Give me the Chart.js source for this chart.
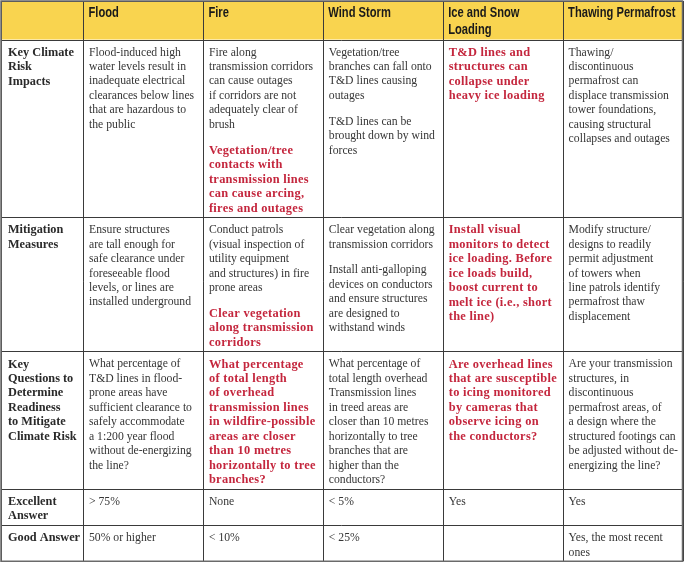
<!DOCTYPE html>
<html lang="en">
<head>
<meta charset="UTF-8">
<title>Climate risk readiness</title>
<style>
  body { margin: 0; background: #fff; }
</style>
</head>
<body>
<canvas id="table-chart" width="685" height="564"></canvas>
<script src="https://cdn.jsdelivr.net/npm/chart.js@4.4.1/dist/chart.umd.min.js"></script>
<script>
var hazards = ['Flood', 'Fire', 'Wind Storm', 'Ice and Snow\nLoading', 'Thawing Permafrost'];
var criteria = ['Key Climate\nRisk\nImpacts', 'Mitigation\nMeasures',
  'Key\nQuestions to\nDetermine\nReadiness\nto Mitigate\nClimate Risk', 'Excellent\nAnswer', 'Good Answer'];

// one string per hazard; "\n\n" starts a new paragraph
var impacts = [
  'Flood-induced high\nwater levels result in\ninadequate electrical\nclearances below lines\nthat are hazardous to\nthe public',
  'Fire along\ntransmission corridors\ncan cause outages\nif corridors are not\nadequately clear of\nbrush\n\nVegetation/tree\ncontacts with\ntransmission lines\ncan cause arcing,\nfires and outages',
  'Vegetation/tree\nbranches can fall onto\nT&D lines causing\noutages\n\nT&D lines can be\nbrought down by wind\nforces',
  'T&D lines and\nstructures can\ncollapse under\nheavy ice loading',
  'Thawing/\ndiscontinuous\npermafrost can\ndisplace transmission\ntower foundations,\ncausing structural\ncollapses and outages'
];
var mitigation = [
  'Ensure structures\nare tall enough for\nsafe clearance under\nforeseeable flood\nlevels, or lines are\ninstalled underground',
  'Conduct patrols\n(visual inspection of\nutility equipment\nand structures) in fire\nprone areas\n\nClear vegetation\nalong transmission\ncorridors',
  'Clear vegetation along\ntransmission corridors\n\nInstall anti-galloping\ndevices on conductors\nand ensure structures\nare designed to\nwithstand winds',
  'Install visual\nmonitors to detect\nice loading. Before\nice loads build,\nboost current to\nmelt ice (i.e., short\nthe line)',
  'Modify structure/\ndesigns to readily\npermit adjustment\nof towers when\nline patrols identify\npermafrost thaw\ndisplacement'
];
var questions = [
  'What percentage of\nT&D lines in flood-\nprone areas have\nsufficient clearance to\nsafely accommodate\na 1:200 year flood\nwithout de-energizing\nthe line?',
  'What percentage\nof total length\nof overhead\ntransmission lines\nin wildfire-possible\nareas are closer\nthan 10 metres\nhorizontally to tree\nbranches?',
  'What percentage of\ntotal length overhead\nTransmission lines\nin treed areas are\ncloser than 10 metres\nhorizontally to tree\nbranches that are\nhigher than the\nconductors?',
  'Are overhead lines\nthat are susceptible\nto icing monitored\nby cameras that\nobserve icing on\nthe conductors?',
  'Are your transmission\nstructures, in\ndiscontinuous\npermafrost areas, of\na design where the\nstructured footings can\nbe adjusted without de-\nenergizing the line?'
];
var excellent = ['> 75%', 'None', '< 5%', 'Yes', 'Yes'];
var good = ['50% or higher', '< 10%', '< 25%', '', 'Yes, the most recent\nones'];
var rows = [impacts, mitigation, questions, excellent, good];

// [row, hazard] cells whose last paragraph is the highlighted recommendation
var highlighted = [[0, 1], [0, 3], [1, 1], [1, 3], [2, 1], [2, 3]];

var serif = '"Liberation Serif", "Times New Roman", serif';
var headFont = 'bold 15.5px "Liberation Sans", Arial, sans-serif';
var labelWidth = 82, hazardWidth = 119.9, tableLeft = 1, tableTop = 1;
var lineH = 14.45, paraGap = 11.3, bottomPad = 8.8, headLineH = 16.6;

function isRed(r, c) {
    for (var i = 0; i < highlighted.length; i++) {
        if (highlighted[i][0] === r && highlighted[i][1] === c) return true;
    }
    return false;
}

function cellHeight(text) {
    var paras = text.split('\n\n');
    var n = 0;
    paras.forEach(function (p) { n += p.split('\n').length; });
    return 13 + (n - 1) * lineH + (paras.length - 1) * paraGap + bottomPad;
}

var tablePlugin = {
    id: 'cellTable',
    afterDraw: function (chart) {
        var ctx = chart.ctx;
        var sx = chart.scales.x, sy = chart.scales.y;
        var px = function (v) { return sx.getPixelForValue(v); };
        var py = function (v) { return sy.getPixelForValue(v); };

        var colEdges = [tableLeft, tableLeft + labelWidth];
        hazards.forEach(function () { colEdges.push(colEdges[colEdges.length - 1] + hazardWidth); });

        var headH = 11.7 + headLineH + 10.2;
        var rowEdges = [tableTop, tableTop + headH];
        rows.forEach(function (row, r) {
            var h = cellHeight(criteria[r]);
            row.forEach(function (t) { h = Math.max(h, cellHeight(t)); });
            rowEdges.push(rowEdges[rowEdges.length - 1] + h);
        });
        var right = colEdges[colEdges.length - 1];
        var bottom = rowEdges[rowEdges.length - 1];

        ctx.save();
        // header band
        ctx.fillStyle = '#f9d44f';
        ctx.fillRect(px(tableLeft), py(tableTop), px(right) - px(tableLeft), py(rowEdges[1]) - py(tableTop));

        ctx.textBaseline = 'middle';
        ctx.textAlign = 'left';

        // header texts, squeezed to look like a condensed face
        ctx.fillStyle = '#1a1a1a';
        ctx.font = headFont;
        hazards.forEach(function (h, c) {
            h.split('\n').forEach(function (line, i) {
                ctx.save();
                ctx.translate(px(colEdges[c + 1]) + 5.5, py(tableTop + 12.2 + i * headLineH));
                ctx.scale(0.72, 1);
                ctx.fillText(line, 0, 0);
                ctx.restore();
            });
        });

        // row labels
        ctx.fillStyle = '#2a2a2a';
        ctx.font = 'bold 12.3px ' + serif;
        criteria.forEach(function (lab, r) {
            lab.split('\n').forEach(function (line, i) {
                ctx.fillText(line, px(tableLeft) + 7, py(rowEdges[r + 1] + 13 + i * lineH), 74);
            });
        });

        // body cells
        rows.forEach(function (row, r) {
            row.forEach(function (text, c) {
                if (!text) return;
                var yv = rowEdges[r + 1] + 13;
                var paras = text.split('\n\n');
                paras.forEach(function (p, k) {
                    var red = isRed(r, c) && k === paras.length - 1;
                    ctx.fillStyle = red ? '#c4263d' : '#363636';
                    ctx.font = red ? 'bold 12.4px ' + serif : '11.7px ' + serif;
                    ctx.letterSpacing = red ? '0.3px' : '0px';
                    p.split('\n').forEach(function (line) {
                        ctx.fillText(line, px(colEdges[c + 1]) + 6, py(yv), hazardWidth - 7);
                        yv += lineH;
                    });
                    yv += paraGap;
                });
            });
        });
        ctx.letterSpacing = '0px';

        // grid
        ctx.strokeStyle = '#3a3a3a';
        ctx.lineWidth = 1;
        ctx.beginPath();
        colEdges.forEach(function (v) {
            var xx = Math.round(px(v)) + 0.5;
            ctx.moveTo(xx, py(tableTop));
            ctx.lineTo(xx, py(bottom));
        });
        rowEdges.forEach(function (v) {
            var yy = Math.round(py(v)) + 0.5;
            ctx.moveTo(px(tableLeft), yy);
            ctx.lineTo(px(right), yy);
        });
        ctx.stroke();
        ctx.strokeStyle = '#6a6a6a';
        ctx.lineWidth = 1.5;
        ctx.strokeRect(px(tableLeft), py(tableTop), px(right) - px(tableLeft), py(bottom) - py(tableTop));
        ctx.restore();
    }
};

new Chart(document.getElementById('table-chart'), {
    type: 'scatter',
    data: { datasets: [{ data: [] }] },
    options: {
        responsive: false,
        animation: false,
        events: [],
        layout: { padding: 0 },
        plugins: { legend: { display: false }, tooltip: { enabled: false } },
        scales: {
            x: { type: 'linear', min: 0, max: 685, display: false },
            y: { type: 'linear', min: 0, max: 564, reverse: true, display: false }
        }
    },
    plugins: [tablePlugin]
});
</script>
</body>
</html>
